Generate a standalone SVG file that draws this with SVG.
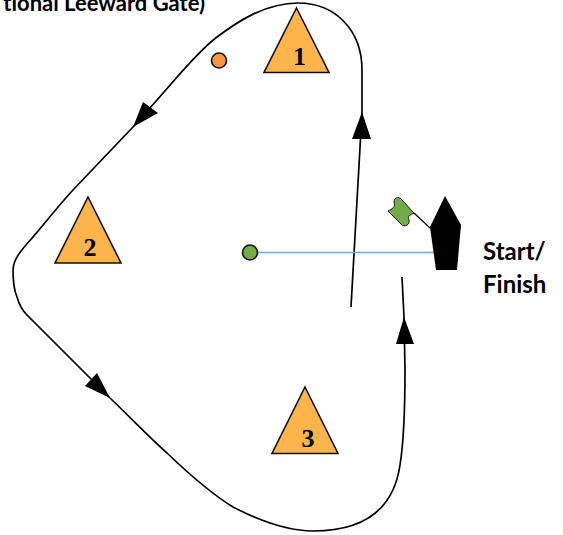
<svg xmlns="http://www.w3.org/2000/svg" width="563" height="535" viewBox="0 0 563 535">
<style>
.mark{fill:#fdb44b;stroke:#111;stroke-width:1.6}
.num{font-family:"Liberation Serif",serif;font-weight:bold;font-size:26px;fill:#000;text-anchor:middle}
.lab{font-family:Lato,"Liberation Sans",sans-serif;font-weight:bold;fill:#000;font-variant-ligatures:none}
.course{fill:none;stroke:#000;stroke-width:1.7}
.dot{stroke:#111;stroke-width:1.6}
</style>
<rect width="563" height="535" fill="#fff"/>
<g id="connectors">
<path class="course" d="M351 307L362 112V70C362 30 335 3 298 3C265 3 237 22 217 37C197 52 175 80 157 100L133 127L73 190C60 204 45 223 33 237C25 246 13 258 13 270C13 282 14 290 17 297C19 304 22 310 27 315L110 398C130 417 150 438 167 453C190 475 210 493 233 507C258 520 285 531 313 531C350 531 392 520 400 465C404 440 405 400 405 370L404 317L402 277"/>
<path id="start-line" fill="none" stroke="#6fa8dc" stroke-width="1.5" d="M258 252.500H434"/>
<path d="M362 112L352 139H371Z"/>
<path d="M133 127L143 102L158 113Z"/>
<path d="M110 398L97 373L85 386Z"/>
<path d="M404 317L396 344H414Z"/>
</g>
<g id="mark-1"><path class="mark" d="M296.500 8L329 72.500H264Z"/><text class="num" x="299.500" y="65">1</text></g>
<g id="mark-2"><path class="mark" d="M88 197L121 263H55Z"/><text class="num" x="90" y="256">2</text></g>
<g id="mark-3"><path class="mark" d="M305 387L338 453.500H272Z"/><text class="num" x="308" y="447">3</text></g>
<g id="gate"><circle class="dot" cx="219" cy="60.500" r="7.500" fill="#f79646"/></g>
<g id="pin"><circle class="dot" cx="250" cy="252.500" r="7.500" fill="#70ad47"/></g>
<g id="boat"><path d="M445 196L461 225L457 270H436L430 227Z"/>
<path fill="none" stroke="#000" stroke-width="1.200" d="M414 213L430 228"/>
<path fill="#70ad47" stroke="#111" stroke-width="1" d="M388 211C392 209 396 207 394 202C394 198 398 196 401 199L414 213C410 215 407 216 409 220C410 225 405 227 402 225Z"/></g>
<g id="labels">
<text class="lab" x="205" y="11" font-size="22" text-anchor="end">tional Leeward Gate)</text>
<text class="lab" x="483" y="260" font-size="24">Start/</text>
<text class="lab" x="483" y="293" font-size="24">Finish</text>
</g>
</svg>
